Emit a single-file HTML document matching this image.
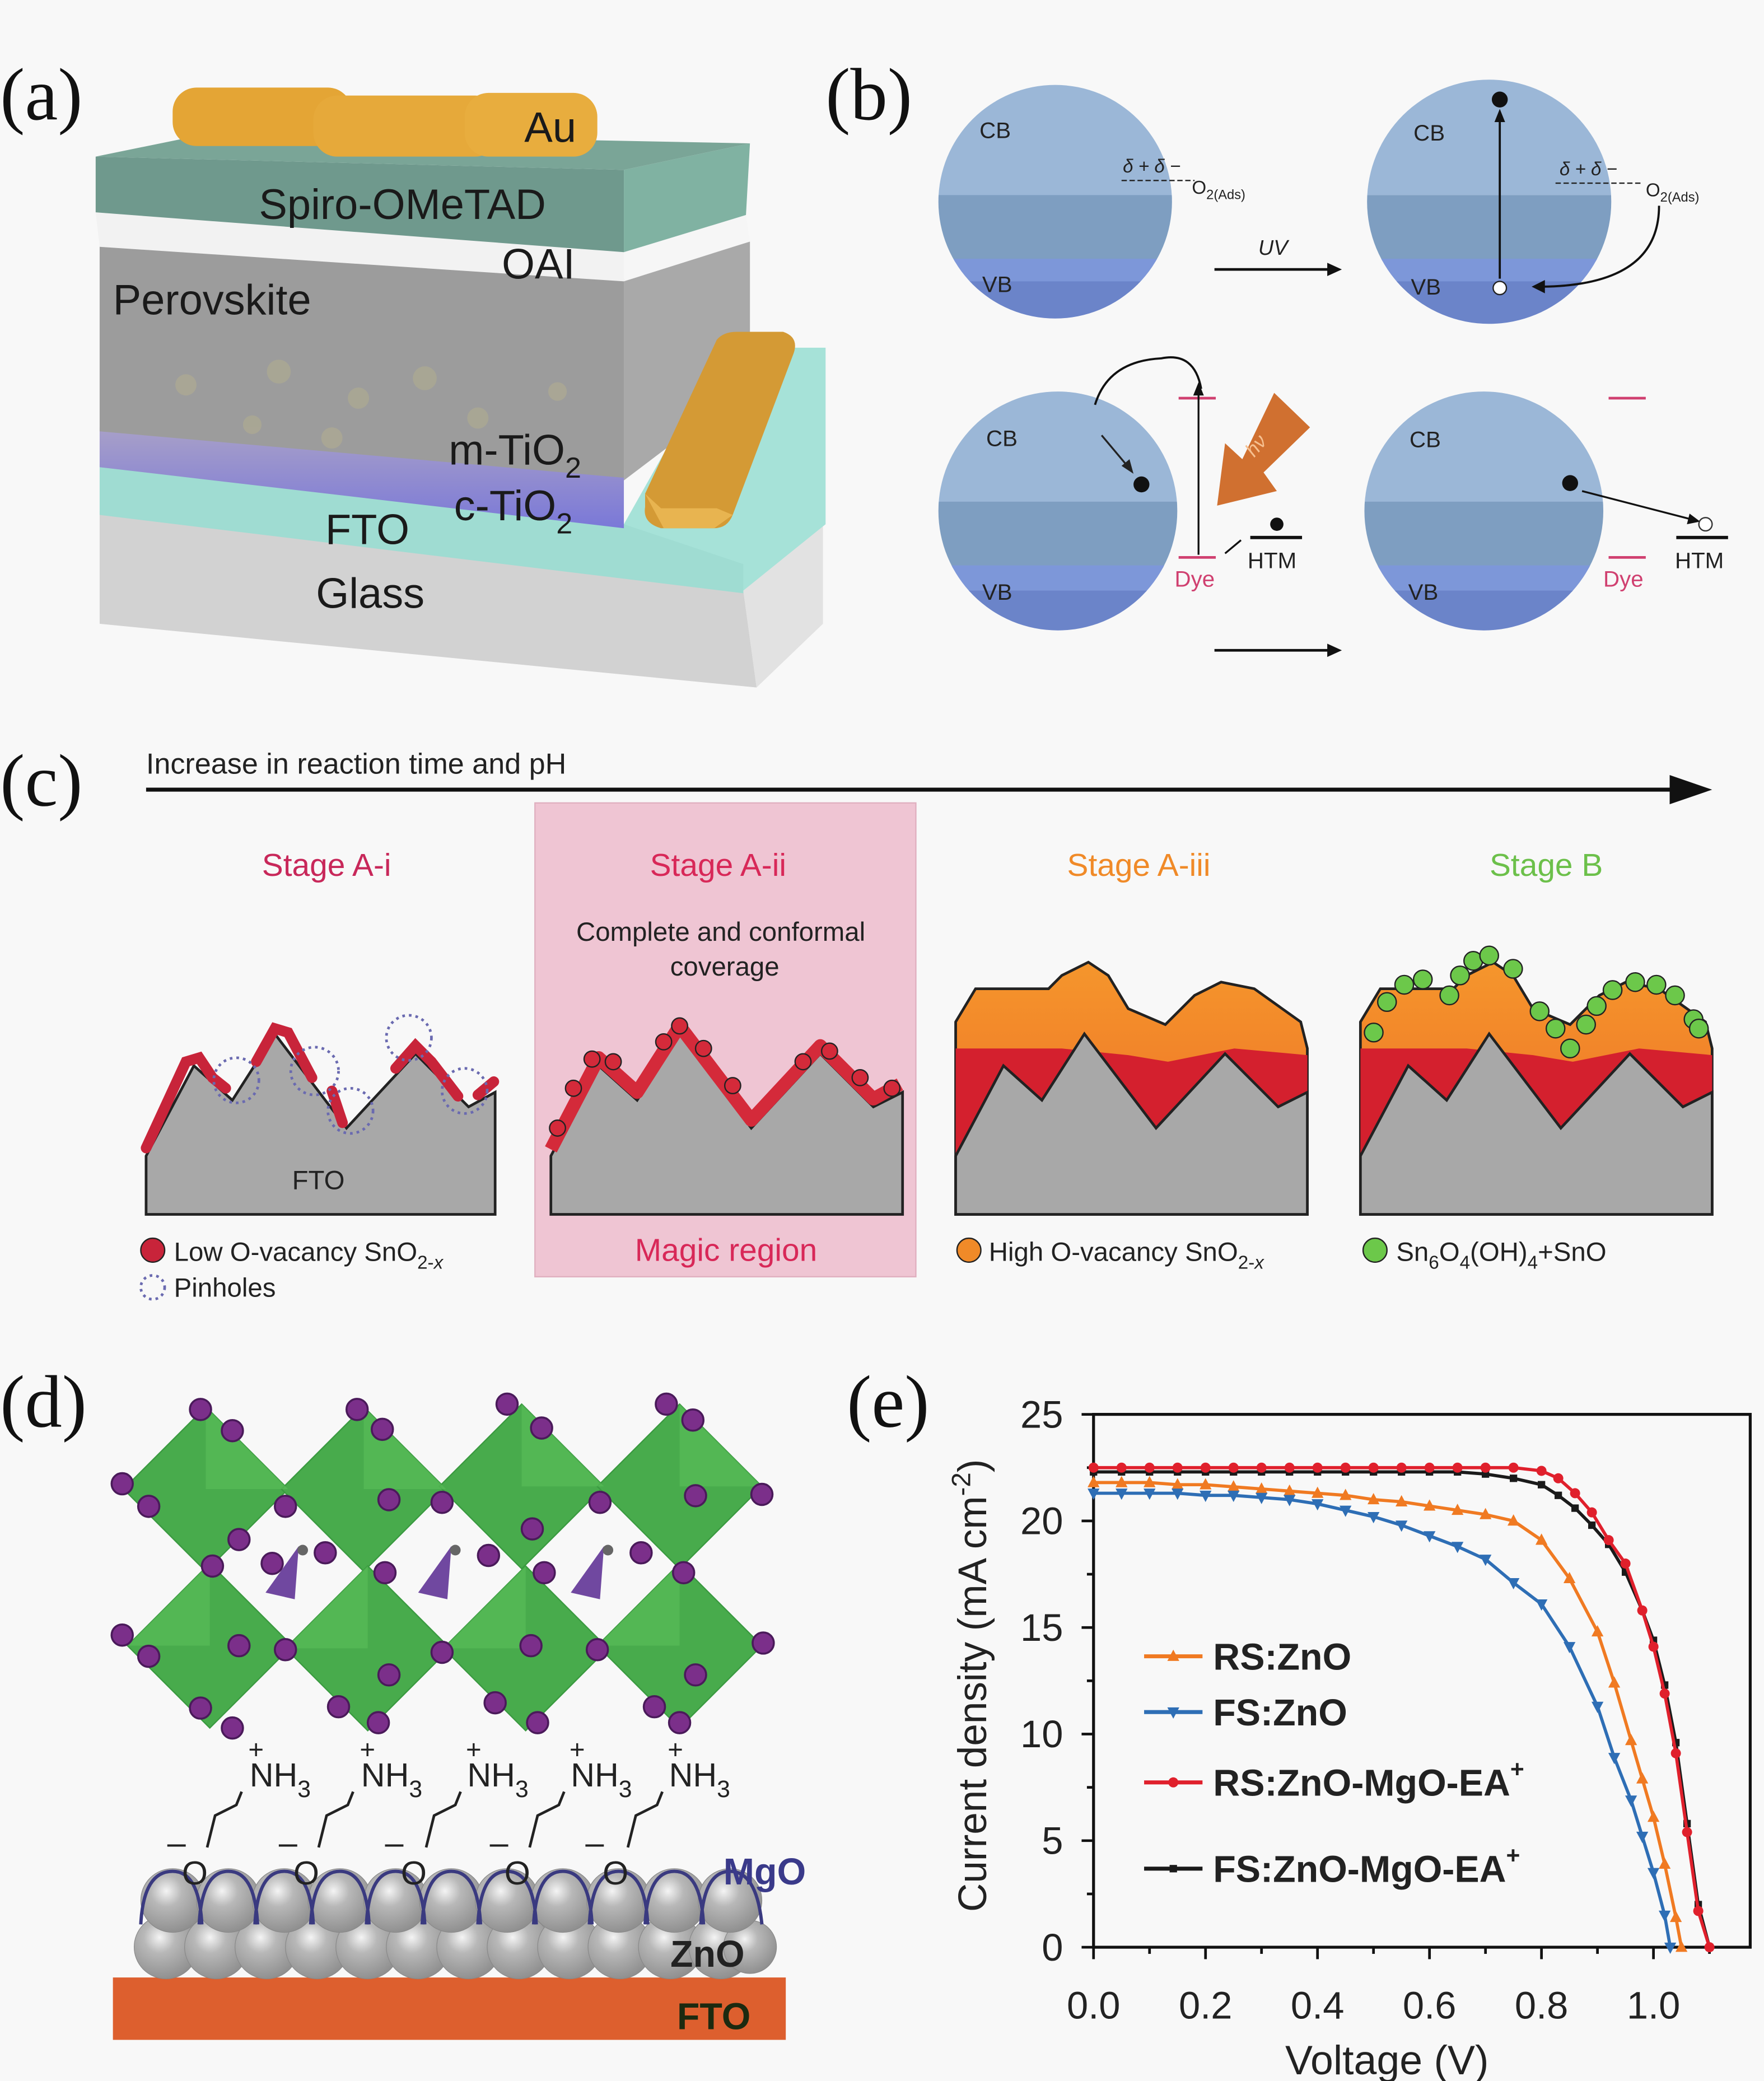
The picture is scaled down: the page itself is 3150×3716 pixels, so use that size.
<!DOCTYPE html>
<html><head><meta charset="utf-8"><style>
html,body{margin:0;padding:0;background:#f8f8f8;}
svg{display:block;font-family:"Liberation Sans",sans-serif;}
</style></head><body>
<svg id="fig" width="3150" height="3716" viewBox="0 0 1329 1568" xmlns="http://www.w3.org/2000/svg">
<defs>
<clipPath id="c1"><circle cx="795" cy="152" r="88"/></clipPath>
<clipPath id="c2"><circle cx="1122" cy="152" r="92"/></clipPath>
<clipPath id="c3"><circle cx="797" cy="385" r="90"/></clipPath>
<clipPath id="c4"><circle cx="1118" cy="385" r="90"/></clipPath>
<linearGradient id="orng" x1="0" y1="0" x2="0" y2="1"><stop offset="0" stop-color="#f5962c"/><stop offset="0.6" stop-color="#f07a28"/><stop offset="1" stop-color="#e8502a"/></linearGradient>
<linearGradient id="purp" x1="0" y1="0" x2="0" y2="1"><stop offset="0" stop-color="#a8a0c8"/><stop offset="1" stop-color="#7a78d8"/></linearGradient>
<radialGradient id="ball" cx="0.4" cy="0.35" r="0.7"><stop offset="0" stop-color="#f4f4f4"/><stop offset="0.35" stop-color="#b8b8b8"/><stop offset="1" stop-color="#8c8c8c"/></radialGradient>
</defs>
<rect width="1329" height="1568" fill="#f8f8f8"/>

<g font-family="Liberation Serif, serif" font-size="56" fill="#111">
<text x="0" y="90">(a)</text>
<text x="622" y="90">(b)</text>
<text x="0" y="607">(c)</text>
<text x="0" y="1075">(d)</text>
<text x="638" y="1075">(e)</text>
</g>

<!-- PANEL A -->
<g>
<polygon points="75,385 560,445 570,518 75,470" fill="#d2d2d2"/>
<polygon points="560,445 620,395 620,470 570,518" fill="#e2e2e2"/>
<polygon points="470,395 545,262 622,262 622,395 560,445 470,410" fill="#a6e2d8"/>
<polygon points="75,350 470,395 560,425 560,447 75,388" fill="#9fdcd2"/>
<polygon points="75,322 470,358 470,398 75,352" fill="url(#purp)"/>
<polygon points="75,185 470,210 470,360 75,325" fill="#9c9c9c"/>
<polygon points="470,210 565,182 565,290 470,362" fill="#a9a9a9"/>
<g fill="#b5b08e" opacity="0.5"><circle cx="140" cy="290" r="8"/><circle cx="210" cy="280" r="9"/><circle cx="270" cy="300" r="8"/><circle cx="320" cy="285" r="9"/><circle cx="190" cy="320" r="7"/><circle cx="250" cy="330" r="8"/><circle cx="360" cy="315" r="8"/><circle cx="420" cy="295" r="7"/></g>
<polygon points="72,160 470,188 470,212 75,186" fill="#f2f2f2"/>
<polygon points="470,188 562,162 565,182 470,212" fill="#f6f6f6"/>
<polygon points="72,118 470,128 470,190 72,160" fill="#6f998d"/>
<polygon points="470,128 565,108 562,162 470,190" fill="#80b2a2"/>
<polygon points="72,118 160,100 565,108 470,128" fill="#7aa597"/>
<rect x="130" y="66" width="135" height="44" rx="18" fill="#e4a535"/>
<rect x="236" y="72" width="140" height="46" rx="18" fill="#e6a93a"/>
<rect x="350" y="70" width="100" height="48" rx="18" fill="#e8ad3e"/>
<path d="M486,372 L540,256 Q545,250 555,250 L590,250 Q602,254 598,266 L552,388 Q548,398 538,398 L498,398 Q484,394 486,382Z" fill="#d49a35"/>
<polygon points="486,372 500,398 538,398 552,388 540,383 498,383" fill="#e8b450"/>
</g>
<g font-size="32" fill="#1a1a1a">
<text x="395" y="107">Au</text>
<text x="195" y="165">Spiro-OMeTAD</text>
<text x="378" y="210">OAI</text>
<text x="85" y="237">Perovskite</text>
<text x="338" y="350">m-TiO<tspan font-size="22" dy="10">2</tspan></text>
<text x="342" y="392">c-TiO<tspan font-size="22" dy="10">2</tspan></text>
<text x="245" y="410">FTO</text>
<text x="238" y="458">Glass</text>
</g>

<!-- PANEL B -->
<g>
<g clip-path="url(#c1)"><rect x="700" y="60" width="200" height="90" fill="#9bb7d7"/><rect x="700" y="147" width="200" height="50" fill="#7e9ec1"/><rect x="700" y="195" width="200" height="18" fill="#7d97d9"/><rect x="700" y="212" width="200" height="40" fill="#6b84c9"/></g>
<g clip-path="url(#c2)"><rect x="1020" y="55" width="220" height="92" fill="#9bb7d7"/><rect x="1020" y="147" width="220" height="50" fill="#7e9ec1"/><rect x="1020" y="195" width="220" height="18" fill="#7d97d9"/><rect x="1020" y="212" width="220" height="40" fill="#6b84c9"/></g>
<g clip-path="url(#c3)"><rect x="700" y="290" width="200" height="90" fill="#9bb7d7"/><rect x="700" y="378" width="200" height="50" fill="#7e9ec1"/><rect x="700" y="426" width="200" height="20" fill="#7d97d9"/><rect x="700" y="445" width="200" height="40" fill="#6b84c9"/></g>
<g clip-path="url(#c4)"><rect x="1020" y="290" width="200" height="90" fill="#9bb7d7"/><rect x="1020" y="378" width="200" height="50" fill="#7e9ec1"/><rect x="1020" y="426" width="200" height="20" fill="#7d97d9"/><rect x="1020" y="445" width="200" height="40" fill="#6b84c9"/></g>
<g font-size="17" fill="#222"><text x="738" y="104">CB</text><text x="740" y="220">VB</text><text x="1065" y="106">CB</text><text x="1063" y="222">VB</text><text x="743" y="336">CB</text><text x="740" y="452">VB</text><text x="1062" y="337">CB</text><text x="1061" y="452">VB</text></g>
<g font-size="14" fill="#222"><text x="846" y="130" font-style="italic">δ + δ −</text><text x="898" y="146">O<tspan font-size="10" dy="4">2(Ads)</tspan></text><text x="1175" y="132" font-style="italic">δ + δ −</text><text x="1240" y="148">O<tspan font-size="10" dy="4">2(Ads)</tspan></text></g>
<line x1="845" y1="136" x2="900" y2="136" stroke="#222" stroke-dasharray="4,2"/>
<line x1="1172" y1="138" x2="1238" y2="138" stroke="#222" stroke-dasharray="4,2"/>
<line x1="915" y1="203" x2="1003" y2="203" stroke="#111" stroke-width="2"/><polygon points="1011,203 1000,198 1000,208" fill="#111"/>
<text x="948" y="192" font-size="16" font-style="italic" fill="#222">UV</text>
<circle cx="1130" cy="75" r="6" fill="#111"/><circle cx="1130" cy="217" r="5" fill="#fff" stroke="#222"/>
<line x1="1130" y1="210" x2="1130" y2="88" stroke="#111" stroke-width="1.6"/><polygon points="1130,82 1126,92 1134,92" fill="#111"/>
<path d="M1250,155 Q1250,215 1162,216" fill="none" stroke="#111" stroke-width="1.6"/><polygon points="1154,216 1164,211 1164,221" fill="#111"/>
<line x1="888" y1="300" x2="916" y2="300" stroke="#d04070" stroke-width="2"/><line x1="888" y1="420" x2="916" y2="420" stroke="#d04070" stroke-width="2"/>
<line x1="903" y1="418" x2="903" y2="294" stroke="#111" stroke-width="1.4"/><polygon points="903,288 899,298 907,298" fill="#111"/>
<path d="M905,293 Q900,265 875,270 Q835,272 825,305" fill="none" stroke="#111" stroke-width="1.6"/>
<line x1="830" y1="328" x2="851" y2="353" stroke="#222" stroke-width="1.4"/><polygon points="854,357 845,351 851,346" fill="#222"/>
<circle cx="860" cy="365" r="6" fill="#111"/>
<polygon points="960,296 987,322 952,356 962,370 917,381 923,334 936,346" fill="#d07030"/>
<text x="945" y="345" font-size="15" font-style="italic" fill="#f6c090" transform="rotate(-50 945 345)">hν</text>
<circle cx="962" cy="395" r="5" fill="#111"/><line x1="942" y1="405" x2="981" y2="405" stroke="#111" stroke-width="2.5"/>
<line x1="935" y1="407" x2="923" y2="417" stroke="#111" stroke-width="1.4"/>
<text x="940" y="428" font-size="17" fill="#222">HTM</text><text x="885" y="442" font-size="17" fill="#d04070">Dye</text>
<line x1="1212" y1="300" x2="1240" y2="300" stroke="#d04070" stroke-width="2"/><line x1="1212" y1="420" x2="1240" y2="420" stroke="#d04070" stroke-width="2"/>
<circle cx="1183" cy="364" r="6" fill="#111"/><line x1="1192" y1="370" x2="1277" y2="392" stroke="#111" stroke-width="1.4"/><polygon points="1281,393 1271,395 1273,387" fill="#111"/>
<circle cx="1285" cy="395" r="5" fill="#fff" stroke="#333"/><line x1="1263" y1="405" x2="1302" y2="405" stroke="#111" stroke-width="2.5"/>
<text x="1262" y="428" font-size="17" fill="#222">HTM</text><text x="1208" y="442" font-size="17" fill="#d04070">Dye</text>
<line x1="915" y1="490" x2="1003" y2="490" stroke="#111" stroke-width="2"/><polygon points="1011,490 1000,485 1000,495" fill="#111"/>
</g>

<!-- PANEL C -->
<g>
<text x="110" y="583" font-size="22" fill="#222">Increase in reaction time and pH</text>
<line x1="110" y1="595" x2="1265" y2="595" stroke="#111" stroke-width="3"/><polygon points="1290,595 1258,584 1258,606" fill="#111"/>
<rect x="403" y="605" width="287" height="357" fill="#efc5d3" stroke="#e0b0c0"/>
<g font-size="24" text-anchor="middle"><text x="246" y="660" fill="#c8285a">Stage A-i</text><text x="541" y="660" fill="#d82858">Stage A-ii</text><text x="858" y="660" fill="#f08a28">Stage A-iii</text><text x="1165" y="660" fill="#6cc04a">Stage B</text></g>
<g font-size="20" text-anchor="middle" fill="#222"><text x="543" y="709">Complete and conformal</text><text x="546" y="735">coverage</text></g>
<polygon points="110,915 110,871 146,803 175,829 207,779 261,850 313,794 353,834 373,823 373,915" fill="#a8a8a8" stroke="#222" stroke-width="2"/>
<path d="M110,865 L140,800 L150,797 L160,812 L170,820 M193,800 L207,775 L217,778 L235,812 M250,822 L258,846 M298,805 L313,788 L325,800 L345,826 M360,825 L372,815" fill="none" stroke="#c8243a" stroke-width="8" stroke-linecap="round"/>
<g fill="none" stroke="#6a6ab0" stroke-width="2" stroke-dasharray="2,3"><circle cx="178" cy="814" r="17"/><circle cx="237" cy="807" r="18"/><circle cx="264" cy="837" r="17"/><circle cx="308" cy="782" r="17"/><circle cx="350" cy="822" r="17"/></g>
<text x="220" y="896" font-size="20" fill="#222">FTO</text>
<polygon points="415,915 415,871 451,803 480,829 512,779 566,850 618,794 658,834 680,823 680,915" fill="#a8a8a8" stroke="#222" stroke-width="2"/>
<polyline points="415,866 451,797 480,823 512,773 566,844 618,788 658,828 678,817" fill="none" stroke="#d42a3a" stroke-width="10" stroke-linejoin="round"/>
<g fill="#d42a3a" stroke="#222" stroke-width="1"><circle cx="420" cy="850" r="6"/><circle cx="432" cy="820" r="6"/><circle cx="446" cy="798" r="6"/><circle cx="462" cy="800" r="6"/><circle cx="500" cy="785" r="6"/><circle cx="512" cy="773" r="6"/><circle cx="530" cy="790" r="6"/><circle cx="552" cy="818" r="6"/><circle cx="605" cy="800" r="6"/><circle cx="625" cy="792" r="6"/><circle cx="648" cy="812" r="6"/><circle cx="672" cy="820" r="6"/></g>
<polygon points="720,770 735,745 790,745 800,735 820,725 835,735 850,760 878,772 900,750 920,740 945,745 980,770 985,790 985,915 720,915" fill="url(#orng)" stroke="#222" stroke-width="2"/>
<polygon points="720,871 720,790 800,790 850,795 880,800 930,790 985,795 985,823 963,834 923,794 871,850 817,779 785,829 756,803" fill="#d4202e"/>
<polygon points="720,915 720,871 756,803 785,829 817,779 871,850 923,794 963,834 985,823 985,915" fill="#a8a8a8" stroke="#222" stroke-width="2"/>
<polygon points="1025,770 1040,745 1095,745 1105,735 1125,725 1140,735 1155,760 1183,772 1205,750 1225,740 1250,745 1285,770 1290,790 1290,915 1025,915" fill="url(#orng)" stroke="#222" stroke-width="2"/>
<polygon points="1025,871 1025,790 1105,790 1155,795 1185,800 1235,790 1290,795 1290,823 1268,834 1228,794 1176,850 1122,779 1090,829 1061,803" fill="#d4202e"/>
<polygon points="1025,915 1025,871 1061,803 1090,829 1122,779 1176,850 1228,794 1268,834 1290,823 1290,915" fill="#a8a8a8" stroke="#222" stroke-width="2"/>
<g fill="#6cc84a" stroke="#222" stroke-width="1"><circle cx="1035" cy="778" r="7"/><circle cx="1045" cy="755" r="7"/><circle cx="1058" cy="742" r="7"/><circle cx="1072" cy="738" r="7"/><circle cx="1092" cy="750" r="7"/><circle cx="1100" cy="735" r="7"/><circle cx="1110" cy="724" r="7"/><circle cx="1122" cy="720" r="7"/><circle cx="1140" cy="730" r="7"/><circle cx="1160" cy="762" r="7"/><circle cx="1172" cy="775" r="7"/><circle cx="1183" cy="790" r="7"/><circle cx="1195" cy="772" r="7"/><circle cx="1203" cy="758" r="7"/><circle cx="1215" cy="746" r="7"/><circle cx="1232" cy="740" r="7"/><circle cx="1248" cy="742" r="7"/><circle cx="1262" cy="750" r="7"/><circle cx="1276" cy="768" r="7"/><circle cx="1280" cy="775" r="7"/></g>
<circle cx="115" cy="942" r="9" fill="#c8243a" stroke="#222"/><text x="131" y="950" font-size="20" fill="#222">Low O-vacancy SnO<tspan font-size="14" dy="6">2-<tspan font-style="italic">x</tspan></tspan></text>
<circle cx="115" cy="970" r="9" fill="none" stroke="#6a6ab0" stroke-width="2" stroke-dasharray="2,3"/><text x="131" y="977" font-size="20" fill="#222">Pinholes</text>
<text x="547" y="950" font-size="24" fill="#d82858" text-anchor="middle">Magic region</text>
<circle cx="730" cy="942" r="9" fill="#f08a28" stroke="#222"/><text x="745" y="950" font-size="20" fill="#222">High O-vacancy SnO<tspan font-size="14" dy="6">2-<tspan font-style="italic">x</tspan></tspan></text>
<circle cx="1036" cy="942" r="9" fill="#6cc84a" stroke="#222"/><text x="1052" y="950" font-size="20" fill="#222">Sn<tspan font-size="14" dy="6">6</tspan><tspan dy="-6">O</tspan><tspan font-size="14" dy="6">4</tspan><tspan dy="-6">(OH)</tspan><tspan font-size="14" dy="6">4</tspan><tspan dy="-6">+SnO</tspan></text>
</g>

<!-- PANEL D -->
<g>
<g fill="#48ab4c" stroke="#3a9a40" stroke-width="1">
<polygon points="155,1060 217,1122 155,1184 93,1122"/><polygon points="274,1060 336,1122 274,1184 212,1122"/><polygon points="393,1058 455,1120 393,1182 331,1120"/><polygon points="512,1058 574,1120 512,1182 450,1120"/>
<polygon points="158,1178 220,1240 158,1302 96,1240"/><polygon points="277,1180 339,1242 277,1304 215,1242"/><polygon points="396,1180 458,1242 396,1304 334,1242"/><polygon points="512,1178 574,1240 512,1302 450,1240"/>
</g>
<g fill="#5cc05a" opacity="0.6"><polygon points="155,1060 217,1122 155,1122"/><polygon points="274,1060 336,1122 274,1122"/><polygon points="393,1058 455,1120 393,1120"/><polygon points="512,1058 574,1120 512,1120"/><polygon points="158,1178 96,1240 158,1240"/><polygon points="277,1180 215,1242 277,1242"/><polygon points="396,1180 334,1242 396,1242"/><polygon points="512,1178 450,1240 512,1240"/></g>
<g fill="#7048a0"><polygon points="225,1165 200,1200 222,1205"/><polygon points="340,1165 315,1200 337,1205"/><polygon points="455,1165 430,1200 452,1205"/></g>
<g fill="#666"><circle cx="228" cy="1168" r="4"/><circle cx="343" cy="1168" r="4"/><circle cx="458" cy="1168" r="4"/></g>
<g fill="#7b2f8a" stroke="#4a1a5a" stroke-width="1.5">
<circle cx="151" cy="1062" r="8"/><circle cx="175" cy="1078" r="8"/><circle cx="92" cy="1118" r="8"/><circle cx="112" cy="1135" r="8"/><circle cx="180" cy="1160" r="8"/><circle cx="160" cy="1180" r="8"/><circle cx="205" cy="1178" r="8"/>
<circle cx="269" cy="1062" r="8"/><circle cx="288" cy="1077" r="8"/><circle cx="215" cy="1135" r="8"/><circle cx="293" cy="1130" r="8"/><circle cx="290" cy="1185" r="8"/><circle cx="245" cy="1170" r="8"/>
<circle cx="382" cy="1058" r="8"/><circle cx="408" cy="1076" r="8"/><circle cx="333" cy="1132" r="8"/><circle cx="401" cy="1152" r="8"/><circle cx="410" cy="1185" r="8"/><circle cx="368" cy="1172" r="8"/>
<circle cx="502" cy="1058" r="8"/><circle cx="522" cy="1070" r="8"/><circle cx="452" cy="1132" r="8"/><circle cx="524" cy="1127" r="8"/><circle cx="574" cy="1126" r="8"/><circle cx="515" cy="1185" r="8"/><circle cx="483" cy="1170" r="8"/>
<circle cx="92" cy="1232" r="8"/><circle cx="112" cy="1248" r="8"/><circle cx="180" cy="1240" r="8"/><circle cx="151" cy="1287" r="8"/><circle cx="175" cy="1302" r="8"/>
<circle cx="215" cy="1243" r="8"/><circle cx="293" cy="1262" r="8"/><circle cx="255" cy="1286" r="8"/><circle cx="285" cy="1298" r="8"/>
<circle cx="333" cy="1245" r="8"/><circle cx="400" cy="1240" r="8"/><circle cx="373" cy="1283" r="8"/><circle cx="405" cy="1298" r="8"/>
<circle cx="450" cy="1243" r="8"/><circle cx="524" cy="1262" r="8"/><circle cx="575" cy="1238" r="8"/><circle cx="493" cy="1286" r="8"/><circle cx="512" cy="1298" r="8"/>
</g>
<rect x="85" y="1490" width="507" height="47" fill="#dd5f2e"/>
<g fill="url(#ball)" stroke="#888" stroke-width="0.5">
<circle cx="125" cy="1467" r="24"/><circle cx="163" cy="1467" r="24"/><circle cx="201" cy="1467" r="24"/><circle cx="239" cy="1467" r="24"/><circle cx="277" cy="1467" r="24"/><circle cx="315" cy="1467" r="24"/><circle cx="353" cy="1467" r="24"/><circle cx="391" cy="1467" r="24"/><circle cx="429" cy="1467" r="24"/><circle cx="467" cy="1467" r="24"/><circle cx="505" cy="1467" r="24"/><circle cx="543" cy="1467" r="24"/><circle cx="565" cy="1467" r="20"/>
<circle cx="130" cy="1432" r="24"/><circle cx="172" cy="1432" r="24"/><circle cx="214" cy="1432" r="24"/><circle cx="256" cy="1432" r="24"/><circle cx="298" cy="1432" r="24"/><circle cx="340" cy="1432" r="24"/><circle cx="382" cy="1432" r="24"/><circle cx="424" cy="1432" r="24"/><circle cx="466" cy="1432" r="24"/><circle cx="508" cy="1432" r="24"/><circle cx="550" cy="1432" r="24"/>
</g>
<path d="M106,1450 Q108,1410 130,1410 Q150,1410 152,1450 M150,1450 Q152,1410 172,1410 Q192,1410 194,1450 M192,1450 Q194,1410 214,1410 Q234,1410 236,1450 M234,1450 Q236,1410 256,1410 Q276,1410 278,1450 M276,1450 Q278,1410 298,1410 Q318,1410 320,1450 M318,1450 Q320,1410 340,1410 Q360,1410 362,1450 M360,1450 Q362,1410 382,1410 Q402,1410 404,1450 M402,1450 Q404,1410 424,1410 Q444,1410 446,1450 M444,1450 Q446,1410 466,1410 Q486,1410 488,1450 M486,1450 Q488,1410 508,1410 Q528,1410 530,1450 M528,1450 Q530,1410 550,1410 Q570,1410 574,1450" fill="none" stroke="#3a3a80" stroke-width="2.5"/>
<g font-size="25" fill="#222">
<text x="137" y="1420">O</text><text x="221" y="1420">O</text><text x="302" y="1420">O</text><text x="380" y="1420">O</text><text x="454" y="1420">O</text>
<text x="126" y="1397">–</text><text x="210" y="1397">–</text><text x="290" y="1397">–</text><text x="369" y="1397">–</text><text x="441" y="1397">–</text>
<text x="188" y="1346">NH<tspan font-size="18" dy="8">3</tspan></text><text x="272" y="1346">NH<tspan font-size="18" dy="8">3</tspan></text><text x="352" y="1346">NH<tspan font-size="18" dy="8">3</tspan></text><text x="430" y="1346">NH<tspan font-size="18" dy="8">3</tspan></text><text x="504" y="1346">NH<tspan font-size="18" dy="8">3</tspan></text>
<text x="187" y="1325" font-size="20">+</text><text x="271" y="1325" font-size="20">+</text><text x="351" y="1325" font-size="20">+</text><text x="429" y="1325" font-size="20">+</text><text x="503" y="1325" font-size="20">+</text>
</g>
<g fill="none" stroke="#222" stroke-width="2">
<polyline points="156,1392 162,1368 178,1360 182,1350"/><polyline points="240,1392 246,1368 262,1360 266,1350"/><polyline points="321,1392 327,1368 343,1360 347,1350"/><polyline points="399,1392 405,1368 421,1360 425,1350"/><polyline points="473,1392 479,1368 495,1360 499,1350"/>
</g>
<text x="545" y="1420" font-size="28" font-weight="bold" fill="#3a3a8a">MgO</text>
<text x="505" y="1482" font-size="28" font-weight="bold" fill="#222">ZnO</text>
<text x="510" y="1529" font-size="28" font-weight="bold" fill="#1c2a10">FTO</text>
</g>

<g id="chart"></g>
</svg>
<script>
const rsZnOV = [0,0.05,0.1,0.15,0.2,0.25,0.3,0.35,0.4,0.45,0.5,0.55,0.6,0.65,0.7,0.75,0.8,0.85,0.9,0.93,0.96,0.98,1.0,1.02,1.04,1.05];
const rsZnOJ = [21.8,21.8,21.8,21.7,21.7,21.6,21.5,21.4,21.3,21.2,21.0,20.9,20.7,20.5,20.3,20.0,19.1,17.3,14.8,12.4,9.7,7.9,6.1,3.9,1.4,0];
const fsZnOV = [0,0.05,0.1,0.15,0.2,0.25,0.3,0.35,0.4,0.45,0.5,0.55,0.6,0.65,0.7,0.75,0.8,0.85,0.9,0.93,0.96,0.98,1.0,1.02,1.03];
const fsZnOJ = [21.3,21.3,21.3,21.3,21.2,21.2,21.1,21.0,20.8,20.5,20.2,19.8,19.3,18.8,18.2,17.1,16.1,14.1,11.3,8.9,6.9,5.2,3.5,1.5,0];
const rsMgV = [0,0.05,0.1,0.15,0.2,0.25,0.3,0.35,0.4,0.45,0.5,0.55,0.6,0.65,0.7,0.75,0.8,0.83,0.86,0.89,0.92,0.95,0.98,1.0,1.02,1.04,1.06,1.08,1.1];
const rsMgJ = [22.5,22.5,22.5,22.5,22.5,22.5,22.5,22.5,22.5,22.5,22.5,22.5,22.5,22.5,22.5,22.5,22.35,22.0,21.3,20.4,19.1,18.0,15.8,14.1,11.9,9.1,5.4,1.7,0];
const fsMgV = [0,0.05,0.1,0.15,0.2,0.25,0.3,0.35,0.4,0.45,0.5,0.55,0.6,0.65,0.7,0.75,0.8,0.83,0.86,0.89,0.92,0.95,0.98,1.0,1.02,1.04,1.06,1.08,1.1];
const fsMgJ = [22.3,22.3,22.3,22.3,22.3,22.3,22.3,22.3,22.3,22.3,22.3,22.3,22.3,22.3,22.2,22.0,21.7,21.2,20.6,19.8,18.9,17.6,15.8,14.4,12.3,9.6,5.8,2.0,0];
const seriesNames = ["RS:ZnO","FS:ZnO","RS:ZnO-MgO-EA","FS:ZnO-MgO-EA"];
const xTickLabels = ["0.0","0.2","0.4","0.6","0.8","1.0"];
const yTickLabels = ["0","5","10","15","20","25"];

const NS = "http://www.w3.org/2000/svg";
const g = document.getElementById("chart");
const X0 = 823.9, XS = 421.9, Y0 = 1467.2, YS = 16.06;
const xAxis = v => X0 + v * XS;
const yAxis = j => Y0 - j * YS;
function mk(tag, attrs, parent) {
  const e = document.createElementNS(NS, tag);
  for (const k in attrs) e.setAttribute(k, attrs[k]);
  (parent || g).appendChild(e);
  return e;
}
const frame = mk("rect", {x: xAxis(0), y: yAxis(25), width: 1318.7 - xAxis(0), height: yAxis(0) - yAxis(25), fill: "none", stroke: "#111", "stroke-width": 2.2});


for (let i = 0; i <= 11; i++) {
  const v = i * 0.1;
  const t = mk("line", {x1: xAxis(v), x2: xAxis(v), y1: yAxis(0), y2: yAxis(0) + (i % 2 === 0 ? 9 : 5), stroke: "#111", "stroke-width": 2});
  
  
}
xTickLabels.forEach(lbl => {
  const t = mk("text", {x: xAxis(parseFloat(lbl)), y: 1521, "font-size": 29, "text-anchor": "middle", fill: "#222"});
  t.textContent = lbl;
  
  
});
for (let i = 0; i <= 10; i++) {
  const j = i * 2.5;
  const t = mk("line", {x1: xAxis(0) - (i % 2 === 0 ? 9 : 5), x2: xAxis(0), y1: yAxis(j), y2: yAxis(j), stroke: "#111", "stroke-width": 2});
  
  
}
yTickLabels.forEach(lbl => {
  const t = mk("text", {x: 801, y: yAxis(parseFloat(lbl)) + 10, "font-size": 29, "text-anchor": "end", fill: "#222"});
  t.textContent = lbl;
  
  
});
const xt = mk("text", {x: 1045, y: 1563, "font-size": 31, "text-anchor": "middle", fill: "#222"});
xt.textContent = "Voltage (V)";


const yt = mk("text", {x: 0, y: 0, "font-size": 30, "text-anchor": "middle", fill: "#222", transform: "translate(743,1270) rotate(-90)"});
yt.innerHTML = 'Current density (mA cm<tspan font-size="20" dy="-12">-2</tspan><tspan dy="12">)</tspan>';



function marker(shape, x, y, color, parent) {
  let e;
  if (shape === "up") e = mk("polygon", {points: `${x},${y-5} ${x-4.5},${y+3.5} ${x+4.5},${y+3.5}`, fill: color}, parent);
  else if (shape === "down") e = mk("polygon", {points: `${x},${y+5} ${x-4.5},${y-3.5} ${x+4.5},${y-3.5}`, fill: color}, parent);
  else if (shape === "circle") e = mk("circle", {cx: x, cy: y, r: 3.8, fill: color}, parent);
  else e = mk("rect", {x: x-2.8, y: y-2.8, width: 5.6, height: 5.6, fill: color}, parent);
  return e;
}
const series = [
  {V: fsMgV, J: fsMgJ, color: "#1a1a1a", shape: "square"},
  {V: rsMgV, J: rsMgJ, color: "#e0202c", shape: "circle"},
  {V: rsZnOV, J: rsZnOJ, color: "#f07a22", shape: "up"},
  {V: fsZnOV, J: fsZnOJ, color: "#2e6eb5", shape: "down"}
];
series.forEach((s, k) => {
  const sg = mk("g", {});
  
  
  const pts = s.V.map((v, i) => xAxis(v).toFixed(2) + "," + yAxis(s.J[i]).toFixed(2)).join(" ");
  const pl = mk("polyline", {points: pts, fill: "none", stroke: s.color, "stroke-width": 2.4, "stroke-linejoin": "round"}, sg);
  
  
  s.V.forEach((v, i) => {
    const m = marker(s.shape, xAxis(v), yAxis(s.J[i]), s.color, sg);
    
    
  });
});
const legendY = [1248, 1290, 1343, 1408];
const legendSeries = [series[2], series[3], series[1], series[0]];
seriesNames.forEach((name, i) => {
  const s = legendSeries[i];
  const lg = mk("g", {});
  
  
  mk("line", {x1: 862, x2: 906, y1: legendY[i], y2: legendY[i], stroke: s.color, "stroke-width": 3}, lg);
  marker(s.shape, 884, legendY[i], s.color, lg);
  const t = mk("text", {x: 914, y: legendY[i] + 10, "font-size": 28, "font-weight": "bold", fill: "#222"}, lg);
  t.innerHTML = name + (i >= 2 ? '<tspan font-size="18" dy="-14">+</tspan>' : '');
});
</script>
</body></html>
